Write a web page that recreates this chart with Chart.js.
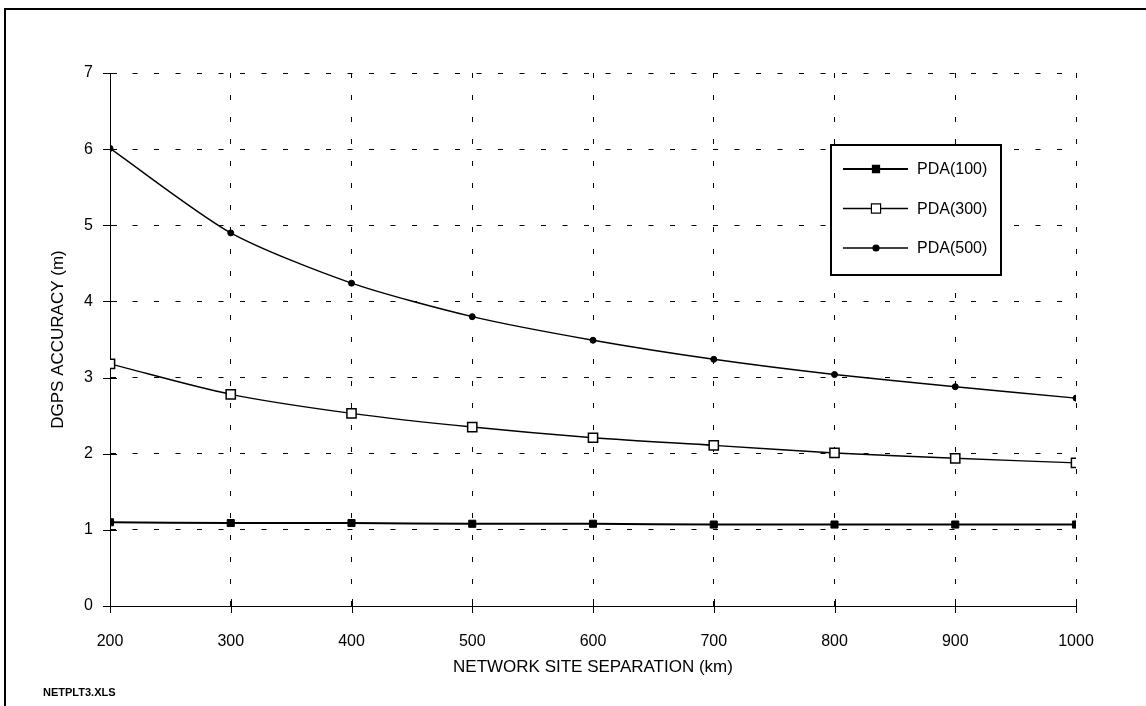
<!DOCTYPE html>
<html>
<head>
<meta charset="utf-8">
<script src="https://cdn.jsdelivr.net/npm/chart.js@4/dist/chart.umd.min.js"></script>
<style>
  body { margin: 0; background: #fff; }
  .sheet { position: relative; width: 1146px; height: 706px; overflow: hidden; }
  .frame {
    position: absolute; left: 4px; top: 8px; right: -4px; bottom: -4px;
    border-left: 2px solid #000; border-top: 2px solid #000;
    pointer-events: none;
  }
  .file-tag {
    position: absolute; left: 43px; top: 686px;
    font: bold 11px "Liberation Sans", Arial, sans-serif; color: #000;
  }
  canvas { position: absolute; left: 0; top: 0; }
</style>
</head>
<body>
<div class="sheet">
  <canvas id="accuracyChart" width="1146" height="706"></canvas>
  <div class="frame"></div>
  <div class="file-tag">NETPLT3.XLS</div>
</div>
<script>
const separations = [200, 300, 400, 500, 600, 700, 800, 900, 1000];
const pda100 = [1.10, 1.09, 1.09, 1.08, 1.08, 1.07, 1.07, 1.07, 1.07];
const pda300 = [3.18, 2.78, 2.53, 2.35, 2.21, 2.11, 2.01, 1.94, 1.88];
const pda500 = [6.01, 4.90, 4.24, 3.80, 3.49, 3.24, 3.04, 2.88, 2.73];
const seriesNames = ['PDA(100)', 'PDA(300)', 'PDA(500)'];
const yTicks = [0, 1, 2, 3, 4, 5, 6, 7];

const FONT = '"Liberation Sans", Arial, sans-serif';

function points(values) {
  return separations.map((x, i) => ({ x, y: values[i] }));
}

// tick marks that cross both axes
const crossTicks = {
  id: 'crossTicks',
  afterDatasetsDraw(chart) {
    const { ctx, scales: { x, y } } = chart;
    const len = 7;
    ctx.save();
    ctx.strokeStyle = '#000';
    ctx.lineWidth = 1;
    ctx.beginPath();
    separations.forEach((v) => {
      const px = Math.round(x.getPixelForValue(v)) + 0.5;
      ctx.moveTo(px, y.bottom - len);
      ctx.lineTo(px, y.bottom + len);
    });
    yTicks.forEach((v) => {
      const py = Math.round(y.getPixelForValue(v)) + 0.5;
      ctx.moveTo(x.left - len, py);
      ctx.lineTo(x.left + len, py);
    });
    ctx.stroke();
    ctx.restore();
  }
};

// boxed legend sitting inside the plot area
const boxLegend = {
  id: 'boxLegend',
  afterDraw(chart) {
    const { ctx } = chart;
    const box = { x: 831, y: 145, w: 170, h: 130 };
    ctx.save();
    ctx.fillStyle = '#fff';
    ctx.fillRect(box.x, box.y, box.w, box.h);
    ctx.strokeStyle = '#000';
    ctx.lineWidth = 2;
    ctx.strokeRect(box.x, box.y, box.w, box.h);
    ctx.font = '16px ' + FONT;
    ctx.textBaseline = 'middle';
    chart.data.datasets.forEach((ds, i) => {
      const cy = 169 + i * 39.5;
      ctx.strokeStyle = '#000';
      ctx.lineWidth = ds.borderWidth;
      ctx.beginPath();
      ctx.moveTo(843, cy);
      ctx.lineTo(908, cy);
      ctx.stroke();
      ctx.lineWidth = 1.2;
      ctx.fillStyle = ds.pointBackgroundColor;
      ctx.strokeStyle = ds.pointBorderColor;
      Chart.helpers.drawPoint(ctx, {
        pointStyle: ds.pointStyle,
        radius: ds.pointRadius,
        rotation: 0,
        borderWidth: ds.pointBorderWidth
      }, 876, cy);
      ctx.fillStyle = '#000';
      ctx.fillText(ds.label, 917, cy + 1);
    });
    ctx.restore();
  }
};

new Chart(document.getElementById('accuracyChart'), {
  type: 'line',
  data: {
    datasets: [
      {
        label: seriesNames[0],
        data: points(pda100),
        borderColor: '#000',
        borderWidth: 2,
        pointStyle: 'rect',
        pointRadius: 5,
        pointBorderWidth: 1,
        pointBackgroundColor: '#000',
        pointBorderColor: '#000',
        tension: 0.3
      },
      {
        label: seriesNames[1],
        data: points(pda300),
        borderColor: '#000',
        borderWidth: 1.4,
        pointStyle: 'rect',
        pointRadius: 6.5,
        pointBorderWidth: 1.5,
        pointBackgroundColor: '#fff',
        pointBorderColor: '#000',
        tension: 0.3
      },
      {
        label: seriesNames[2],
        data: points(pda500),
        borderColor: '#000',
        borderWidth: 1.4,
        pointStyle: 'circle',
        pointRadius: 3,
        pointBorderWidth: 1,
        pointBackgroundColor: '#000',
        pointBorderColor: '#000',
        tension: 0.25
      }
    ]
  },
  options: {
    responsive: false,
    animation: false,
    devicePixelRatio: 1,
    layout: { padding: { top: 73, right: 70, bottom: 0, left: 0 } },
    plugins: {
      legend: { display: false },
      tooltip: { enabled: false }
    },
    scales: {
      x: {
        type: 'linear',
        min: 200,
        max: 1000,
        afterFit(scale) { scale.height = 100; },
        afterBuildTicks(scale) { scale.ticks = separations.map((v) => ({ value: v })); },
        grid: {
          lineWidth: 1,
          drawTicks: false,
          color: (c) => (c.tick && c.tick.value === 200 ? 'rgba(0,0,0,0)' : '#000')
        },
        border: { display: true, color: '#000', width: 1, dash: [5, 17] },
        ticks: {
          color: '#000',
          padding: 26,
          maxRotation: 0,
          font: { family: FONT, size: 16 },
          callback: (v) => String(v)
        },
        title: {
          display: true,
          text: 'NETWORK SITE SEPARATION (km)',
          color: '#000',
          font: { family: FONT, size: 17 },
          padding: { top: 0, bottom: 28 }
        }
      },
      y: {
        min: 0,
        max: 7,
        afterFit(scale) { scale.width = 110; },
        afterBuildTicks(scale) { scale.ticks = yTicks.map((v) => ({ value: v })); },
        grid: {
          lineWidth: 1,
          drawTicks: false,
          color: (c) => (c.tick && c.tick.value === 0 ? 'rgba(0,0,0,0)' : '#000')
        },
        border: { display: true, color: '#000', width: 1, dash: [5, 16.5] },
        ticks: {
          color: '#000',
          padding: 17,
          font: { family: FONT, size: 16 },
          callback: (v) => String(v)
        },
        title: {
          display: true,
          text: 'DGPS ACCURACY (m)',
          color: '#000',
          font: { family: FONT, size: 17 },
          padding: { top: 48, bottom: 0 }
        }
      }
    }
  },
  plugins: [crossTicks, boxLegend]
});
</script>
</body>
</html>
